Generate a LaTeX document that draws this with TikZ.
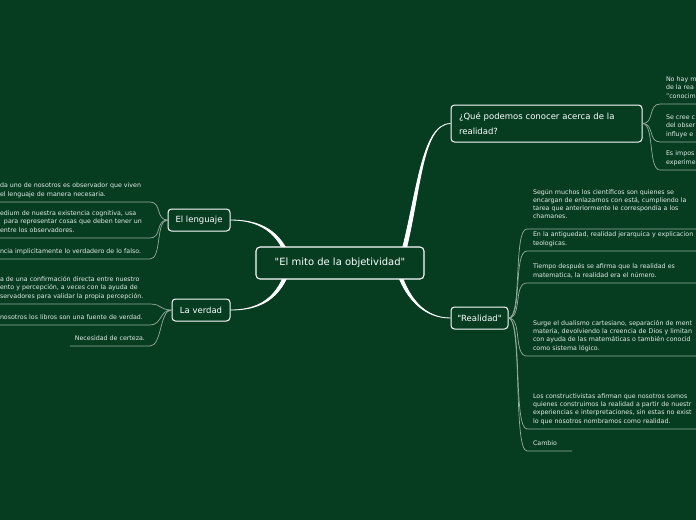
\documentclass[tikz,border=0pt]{standalone}
\usepackage{fontspec}
\setmainfont{DejaVu Sans}
\usetikzlibrary{backgrounds}
\definecolor{mapbg}{RGB}{6,61,33}
\definecolor{twigline}{RGB}{150,172,158}
\definecolor{leaftext}{RGB}{230,236,230}
\newcommand{\leaffont}{\fontsize{6.3}{8.1}\selectfont}
\newcommand{\headfont}{\fontsize{8.5}{15}\selectfont}
\newcommand{\rootfont}{\fontsize{10}{12}\selectfont}

\begin{document}
\begin{tikzpicture}[
    x=1pt, y=-1pt,
    root/.style={rectangle, draw=white, line width=1.1pt, rounded corners=4pt, fill=mapbg, text=white, font=\rootfont, minimum width=168, minimum height=32},
    branch/.style={rectangle, draw=white, line width=1pt, rounded corners=3.5pt, fill=mapbg, text=white, font=\headfont, inner sep=0pt},
    leaf/.style={font=\leaffont, text=leaftext, align=left, inner ysep=3.5pt, outer sep=0pt, execute at end node=\strut},
    trunk/.style={fill=white, draw=white, line width=0.8pt},
    twig/.style={draw=twigline, line width=0.7pt}
]
    \useasboundingbox (0,0) rectangle (696,520);

    % main topics
    \node[root] (myth) at (340,263) {\textquotedbl El mito de la objetividad\textquotedbl};
    \node[branch, minimum width=62, minimum height=22] (lang) at (199,220) {El lenguaje};
    \node[branch, minimum width=58, minimum height=22] (truth) at (201,310) {La verdad};
    \node[branch, minimum width=191, minimum height=37, text width=175, align=left] (quest) at (546.5,123.5) {¿Qué podemos conocer acerca de la\\realidad?};
    \node[branch, minimum width=57, minimum height=22] (real) at (479.5,318) {\textquotedbl Realidad\textquotedbl};

    % left leaves
    \node[leaf, inner xsep=0pt, text width=150, anchor=south west] (lang1) at (0,202) {da uno de nosotros es observador que viven\\el lenguaje de manera necesaria.};
    \node[leaf, inner xsep=0pt, text width=150, anchor=south west] (lang2) at (0,238) {edium de nuestra existencia cognitiva, usa\\\hspace*{4pt}para representar cosas que deben tener un\\entre los observadores.};
    \node[leaf, inner xsep=0pt, text width=150, anchor=south west] (lang3) at (0,259) {ncia implicitamente lo verdadero de lo falso.};
    \node[leaf, inner xsep=0pt, text width=150, anchor=south west] (truth1) at (0,304) {a de una confirmación directa entre nuestro\\ento y percepción, a veces con la ayuda de\\servadores para validar la propia percepción.};
    \node[leaf, inner xsep=0pt, text width=150, anchor=south west] (truth2) at (0,325) {nosotros los libros son una fuente de verdad.};
    \node[leaf, inner xsep=5pt, anchor=south east] (truth3) at (150,346) {Necesidad de certeza.};

    % right leaves
    \node[leaf, inner xsep=6pt, text width=40, anchor=south west] (quest1) at (660,104) {No hay m\\de la rea\\"conocim};
    \node[leaf, inner xsep=6pt, text width=40, anchor=south west] (quest2) at (660,142) {Se cree c\\del obser\\influye e};
    \node[leaf, inner xsep=6pt, text width=40, anchor=south west] (quest3) at (660,170) {Es impos\\experime};

    \node[leaf, inner xsep=6pt, inner ysep=8pt, text width=170, anchor=south west] (real1) at (527,229) {Según muchos los científicos son quienes se\\encargan de enlazarnos con está, cumpliendo la\\tarea que anteriormente le correspondía a los\\chamanes.};
    \node[leaf, inner xsep=6pt, text width=170, anchor=south west] (real2) at (527,251) {En la antiguedad, realidad jerarquica y explicacion\\teologicas.};
    \node[leaf, inner xsep=6pt, text width=170, anchor=south west] (real3) at (527,283) {Tiempo después se afirma que la realidad es\\matematica, la realidad era el número.};
    \node[leaf, inner xsep=6pt, text width=170, anchor=south west] (real4) at (527,356) {Surge el dualismo cartesiano, separación de ment\\materia, devolviendo la creencia de Dios y limitan\\con ayuda de las matemáticas o también conocid\\como sistema lógico.};
    \node[leaf, inner xsep=6pt, text width=170, anchor=south west] (real5) at (527,429) {Los constructivistas afirman que nosotros somos\\quienes construimos la realidad a partir de nuestr\\experiencias e interpretaciones, sin estas no exist\\lo que nosotros nombramos como realidad.};
    \node[leaf, inner xsep=6pt, text width=33, anchor=south west] (real6) at (527,451) {Cambio};

    \begin{scope}[on background layer]
        \fill[mapbg] (0,0) rectangle (696,520);
        % thick branches
        \filldraw[trunk] ([shift={(58,2)}]myth.center) .. controls (417,200) and (420,124) .. (quest.west) .. controls (420,124) and (421,200) .. ([shift={(62,2)}]myth.center) -- cycle;
        \filldraw[trunk] ([shift={(54,0)}]myth.center) .. controls (404,300) and (425,318) .. (real.west) .. controls (425,318) and (407,299) .. ([shift={(58,0)}]myth.center) -- cycle;
        \filldraw[trunk] ([shift={(-52,0)}]myth.center) .. controls (279,231) and (258,220) .. (lang.east) .. controls (258,220) and (282,229) .. ([shift={(-48,0)}]myth.center) -- cycle;
        \filldraw[trunk] ([shift={(-52,0)}]myth.center) .. controls (279,299) and (258,310) .. (truth.east) .. controls (258,310) and (282,301) .. ([shift={(-48,0)}]myth.center) -- cycle;
    \end{scope}

    % thin twigs
    \foreach \leaf in {lang1,lang2,lang3}
        \draw[twig] (lang.west) .. controls +(-12,0) and +(12,0) .. (\leaf.south east) -- (\leaf.south west);
    \foreach \leaf in {truth1,truth2,truth3}
        \draw[twig] (truth.west) .. controls +(-12,0) and +(12,0) .. (\leaf.south east) -- (\leaf.south west);
    \foreach \leaf in {quest1,quest2,quest3}
        \draw[twig] (quest.east) .. controls +(12,0) and +(-12,0) .. (\leaf.south west) -- (\leaf.south east);
    \foreach \leaf in {real1,real2,real3,real4,real5,real6}
        \draw[twig] (real.east) .. controls +(14,0) and +(-14,0) .. (\leaf.south west) -- (\leaf.south east);
\end{tikzpicture}
\end{document}
